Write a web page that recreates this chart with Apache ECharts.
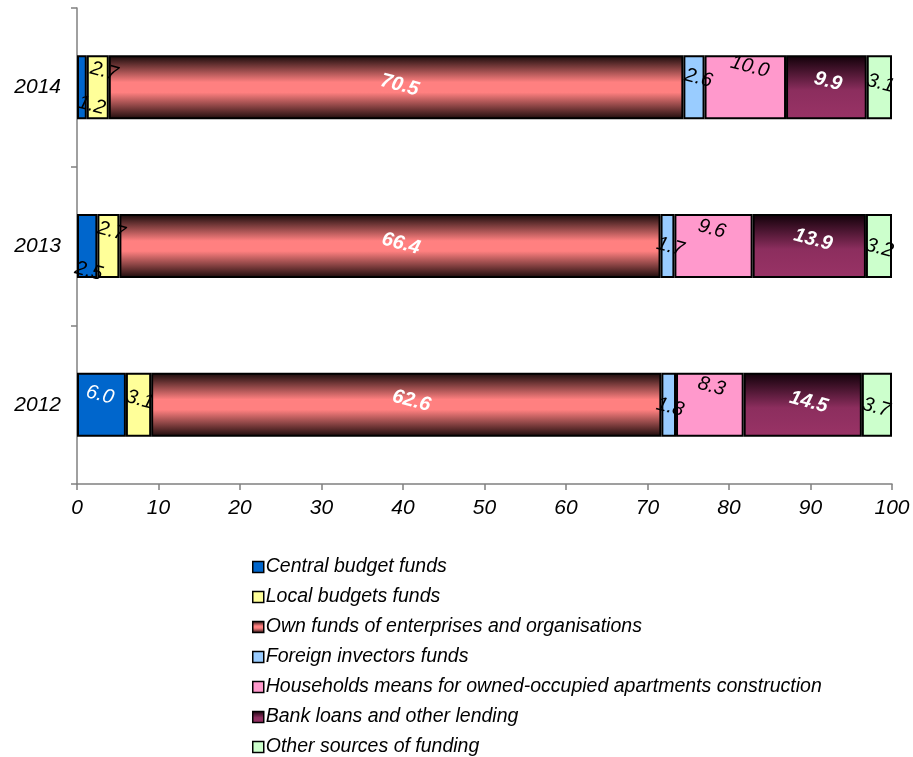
<!DOCTYPE html>
<html>
<head>
<meta charset="utf-8">
<script src="https://cdn.jsdelivr.net/npm/echarts@6/dist/echarts.min.js"></script>
<style>
  html, body { margin: 0; padding: 0; background: #fff; }
  #chart { width: 913px; height: 757px; }
</style>
</head>
<body>
<div id="chart"></div>
<script>
const years = ['2012', '2013', '2014'];

const seriesNames = [
  'Central budget funds',
  'Local budgets funds',
  'Own funds of enterprises and organisations',
  'Foreign invectors funds',
  'Households means for owned-occupied apartments construction',
  'Bank loans and other lending',
  'Other sources of funding'
];

// values per year: 2012, 2013, 2014
const centralBudget = [6.0, 2.5, 1.2];
const localBudgets = [3.1, 2.7, 2.7];
const ownFunds = [62.6, 66.4, 70.5];
const foreignInvestors = [1.8, 1.7, 2.6];
const households = [8.3, 9.6, 10.0];
const bankLoans = [14.5, 13.9, 9.9];
const otherSources = [3.7, 3.2, 3.1];

const xTicks = [0, 10, 20, 30, 40, 50, 60, 70, 80, 90, 100];

const allValues = [centralBudget, localBudgets, ownFunds, foreignInvestors, households, bankLoans, otherSources];

const ownGradient = new echarts.graphic.LinearGradient(0, 0, 0, 1, [
  { offset: 0, color: '#140808' },
  { offset: 0.42, color: '#ff8080' },
  { offset: 0.58, color: '#ff8080' },
  { offset: 1, color: '#1a0a0a' }
]);
const bankGradient = new echarts.graphic.LinearGradient(0, 0, 0, 1, [
  { offset: 0, color: '#100008' },
  { offset: 0.55, color: '#8c2e5e' },
  { offset: 1, color: '#993366' }
]);
const colors = ['#0066cc', '#ffff99', ownGradient, '#99ccff', '#ff99cc', bankGradient, '#ccffcc'];

// label nudges like the original, [series][year] -> [dx, dy]
const nudge = [
  [[-4, -9], [8, 24], [14, 15]],
  [[0, -5], [-1, -15], [2, -17]],
  [[4, -5], [10, -5], [3, -3]],
  [[2, 2], [3, 0], [2, -10]],
  [[-3, -18], [-6, -16], [-1, -21]],
  [[5, -4], [2, -7], [0, -6]],
  [[0, 3], [1, 2], [0, -4]]
];

const series = seriesNames.map(function (name, i) {
  const white = (i === 2 || i === 5);
  return {
    name: name,
    type: 'bar',
    stack: 'total',
    barWidth: 64,
    itemStyle: {
      color: colors[i],
      borderColor: '#000',
      borderWidth: 2
    },
    data: allValues[i].map(function (v, j) {
      const c = (white || (i === 0 && j === 0)) ? '#fff' : '#000';
      return {
        value: v,
        label: {
          offset: nudge[i][j],
          color: c,
          fontWeight: (white ? 'bold' : 'normal')
        }
      };
    }),
    label: {
      show: true,
      position: 'inside',
      rotate: -15,
      fontFamily: 'Liberation Sans, Arial, sans-serif',
      fontStyle: 'italic',
      fontSize: 20,
      formatter: function (p) { return p.value.toFixed(1); }
    }
  };
});

const myChart = echarts.init(document.getElementById('chart'));

myChart.setOption({
  animation: false,
  textStyle: { fontFamily: 'Liberation Sans, Arial, sans-serif' },
  grid: { left: 77, right: 21, top: 8, bottom: 273 },
  legend: {
    orient: 'vertical',
    left: 252,
    top: 557,
    padding: 0,
    itemWidth: 11,
    itemHeight: 11,
    itemGap: 10,
    icon: 'rect',
    itemStyle: { borderColor: '#000', borderWidth: 1.5 },
    textStyle: {
      fontStyle: 'italic',
      fontSize: 19.5,
      color: '#000',
      padding: [0, 0, 0, -3]
    },
    data: seriesNames
  },
  xAxis: {
    type: 'value',
    min: 0,
    max: 100,
    interval: 10,
    splitLine: { show: false },
    axisLine: { show: true, lineStyle: { color: '#808080', width: 1.5 } },
    axisTick: { show: true, length: 6, lineStyle: { color: '#808080', width: 1.5 } },
    axisLabel: {
      fontStyle: 'italic',
      fontSize: 21,
      color: '#000',
      margin: 14,
      formatter: function (v) { return xTicks.indexOf(v) >= 0 ? String(v) : ''; }
    }
  },
  yAxis: {
    type: 'category',
    data: years,
    axisLine: { show: true, lineStyle: { color: '#808080', width: 1.5 } },
    axisTick: { show: true, length: 6, lineStyle: { color: '#808080', width: 1.5 } },
    axisLabel: {
      fontStyle: 'italic',
      fontSize: 21,
      color: '#000',
      margin: 16
    }
  },
  series: series
});

window.addEventListener('resize', () => {
  myChart.resize();
});
</script>
</body>
</html>
